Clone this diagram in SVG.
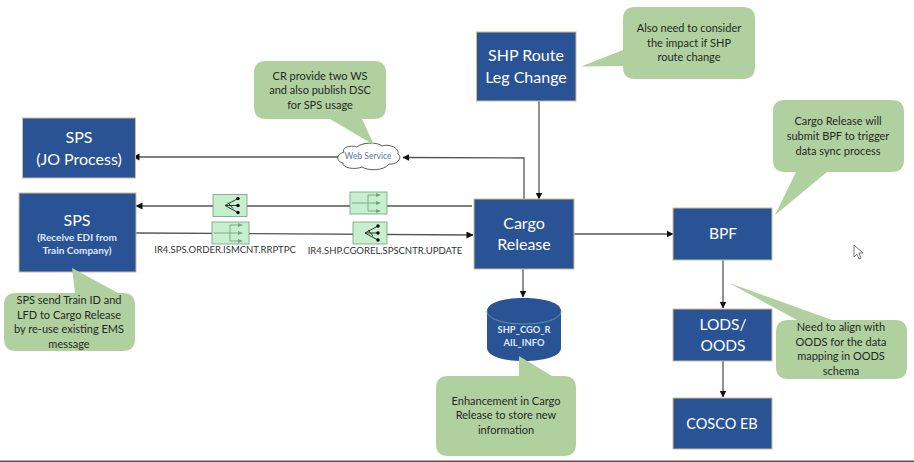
<svg xmlns="http://www.w3.org/2000/svg" width="914" height="462" viewBox="0 0 914 462">
<style>
text{font-family:Lato,"Noto Sans",sans-serif;text-anchor:middle}
.box{fill:#2a5395;stroke:#cdbf8e;stroke-width:1}
.t{fill:#fff;font-size:16px}
.u{fill:#fff;font-size:15.5px}
.s{fill:#dfe8f5;font-size:10px;font-weight:bold}
.c{fill:#b0d09f}
.n{fill:#1f2b1f;font-size:11px}
.l{fill:#333;font-size:9.5px}
.w{fill:none;stroke:#555;stroke-width:1.3}
.i{fill:#c6efce;stroke:#7a9a80;stroke-width:.8}
.g{fill:none;stroke:#64946c;stroke-width:.7}
.d{fill:none;stroke:#222;stroke-width:.9}
</style>
<defs>
<marker id="a" markerWidth="8" markerHeight="8" refX="6.5" refY="3.5" orient="auto" markerUnits="userSpaceOnUse"><path d="M0 0L7 3.500L0 7z" fill="#111"/></marker>
<g id="fan"><rect class="i" x="0" y="0" width="34" height="22"/><path class="d" d="M12 11L25 4M12 11L25 11M12 11L25 18M15 8L20 14"/><circle cx="25" cy="4" r="1.700"/><circle cx="25" cy="11" r="1.700"/><circle cx="25" cy="18" r="1.700"/></g>
<g id="split"><rect class="i" x="0" y="0" width="37" height="22"/><path class="g" d="M2 11H18M18 3H28M18 11H28M18 19H28M18 3V19"/><path d="M26 1L31 3L26 5zM26 9L31 11L26 13zM26 17L31 19L26 21z" fill="#7ba07f"/></g>
</defs>
<rect width="914" height="462" fill="#fff"/>
<g id="connectors">
<path class="w" d="M339 157H133" marker-end="url(#a)"/>
<path class="w" d="M524 199V158L403 157.500" marker-end="url(#a)"/>
<path class="w" d="M472 206H136" marker-end="url(#a)"/>
<path class="w" d="M136 233L473 235" marker-end="url(#a)"/>
<path class="w" d="M539 101V199" marker-end="url(#a)"/>
<path class="w" d="M523 269V297" marker-end="url(#a)"/>
<path class="w" d="M574 234H673" marker-end="url(#a)"/>
<path class="w" d="M723 260V308" marker-end="url(#a)"/>
<path class="w" d="M723 361V397" marker-end="url(#a)"/>
</g>
<g id="icons">
<use href="#fan" x="213" y="194.500"/>
<use href="#split" x="350" y="192"/>
<use href="#split" x="212" y="222"/>
<use href="#fan" x="353" y="222"/>
</g>
<g id="node-sps-jo"><rect class="box" x="22.500" y="118" width="113" height="60"/><text class="t" x="79" y="143">SPS</text><text class="t" x="79" y="165">(JO Process)</text></g>
<g id="node-sps-edi"><rect class="box" x="19" y="193" width="117" height="79"/><text class="t" x="77" y="226">SPS</text><text class="s" x="77" y="241">(Receive EDI from</text><text class="s" x="77" y="254">Train Company)</text></g>
<g id="node-cargo"><rect class="box" x="474" y="199" width="100" height="70"/><text class="t" x="524" y="229">Cargo</text><text class="t" x="524" y="250">Release</text></g>
<g id="node-route"><rect class="box" x="476.500" y="32" width="99.500" height="69"/><text class="t" x="526" y="61">SHP Route</text><text class="t" x="526" y="83">Leg Change</text></g>
<g id="node-bpf"><rect class="box" x="673" y="208" width="99" height="52"/><text class="u" x="723" y="239">BPF</text></g>
<g id="node-lods"><rect class="box" x="673" y="309" width="99" height="52"/><text class="u" x="723" y="330">LODS/</text><text class="u" x="723" y="351">OODS</text></g>
<g id="node-cosco"><rect class="box" x="673" y="398" width="99" height="51"/><text class="u" x="722" y="429" style="font-size:14.500px">COSCO EB</text></g>
<g id="node-db"><path d="M487 311V348C487 356 503 361 524 361S561 356 561 348V311C561 303 545 298 524 298S487 303 487 311Z" fill="#2a5395"/><path d="M487 311C487 319 503 324 524 324S561 319 561 311" fill="none" stroke="#5f9a9a" stroke-width="1"/><text class="s" x="524" y="333" style="font-size:9.300px">SHP_CGO_R</text><text class="s" x="524" y="346" style="font-size:9.300px">AIL_INFO</text></g>
<g id="node-ws"><path d="M344 152C341 147 352 145 357 147C362 142 378 142 382 146C390 143 400 149 398 154C403 158 397 165 389 164C384 171 368 171 362 167C355 170 342 168 343 163C335 161 337 154 344 152Z" fill="#fff" stroke="#333" stroke-width=".8"/><text x="368" y="159" style="font-size:8.500px" fill="#5a77a8">Web Service</text></g>
<g id="note-route"><path class="c" d="M635 7H743Q755 7 755 19V67Q755 79 743 79H635Q623 79 623 67V66L581 66.500L623 50V19Q623 7 635 7Z"/><text class="n" x="689" y="32">Also need to consider</text><text class="n" x="689" y="47">the impact if SHP</text><text class="n" x="689" y="61">route change</text></g>
<g id="note-ws"><path class="c" d="M266 61H374Q386 61 386 73V107Q386 119 374 119H362L374 145L330 119H266Q254 119 254 107V73Q254 61 266 61Z"/><text class="n" x="320" y="80">CR provide two WS</text><text class="n" x="320" y="94">and also publish DSC</text><text class="n" x="320" y="109">for SPS usage</text></g>
<g id="note-bpf"><path class="c" d="M785 100H892Q904 100 904 112V160Q904 172 892 172H827L775 215L796 172H785Q773 172 773 160V112Q773 100 785 100Z"/><text class="n" x="838" y="125">Cargo Release will</text><text class="n" x="838" y="140">submit BPF to trigger</text><text class="n" x="838" y="155">data sync process</text></g>
<g id="note-sps"><path class="c" d="M16 293H75L72 268L118 293H123Q135 293 135 305V339Q135 351 123 351H16Q4 351 4 339V305Q4 293 16 293Z"/><text class="n" x="69" y="304">SPS send Train ID and</text><text class="n" x="69" y="319">LFD to Cargo Release</text><text class="n" x="69" y="333">by re-use existing EMS</text><text class="n" x="69" y="348">message</text></g>
<g id="note-db"><path class="c" d="M448 376H519V356L552 376H564Q576 376 576 388V444Q576 456 564 456H448Q436 456 436 444V388Q436 376 448 376Z"/><text class="n" x="506" y="405">Enhancement in Cargo</text><text class="n" x="506" y="419">Release to store new</text><text class="n" x="506" y="434">information</text></g>
<g id="note-oods"><path class="c" d="M788 320H832L729 283L797 320ZM788 320H895Q907 320 907 332V367Q907 379 895 379H788Q776 379 776 367V332Q776 320 788 320Z"/><text class="n" x="841" y="331">Need to align with</text><text class="n" x="841" y="346">OODS for the data</text><text class="n" x="841" y="360">mapping in OODS</text><text class="n" x="841" y="375">schema</text></g>
<text class="l" x="225" y="253">IR4.SPS.ORDER.ISMCNT.RRPTPC</text>
<text class="l" x="385" y="254">IR4.SHP.CGOREL.SPSCNTR.UPDATE</text>
<path id="cursor" d="M854 245V257L857 254L859 259L861 258L859 253L863 253Z" fill="#fff" stroke="#555" stroke-width=".8"/>
<rect x="0" y="460.500" width="914" height="1.500" fill="#555"/>
</svg>
